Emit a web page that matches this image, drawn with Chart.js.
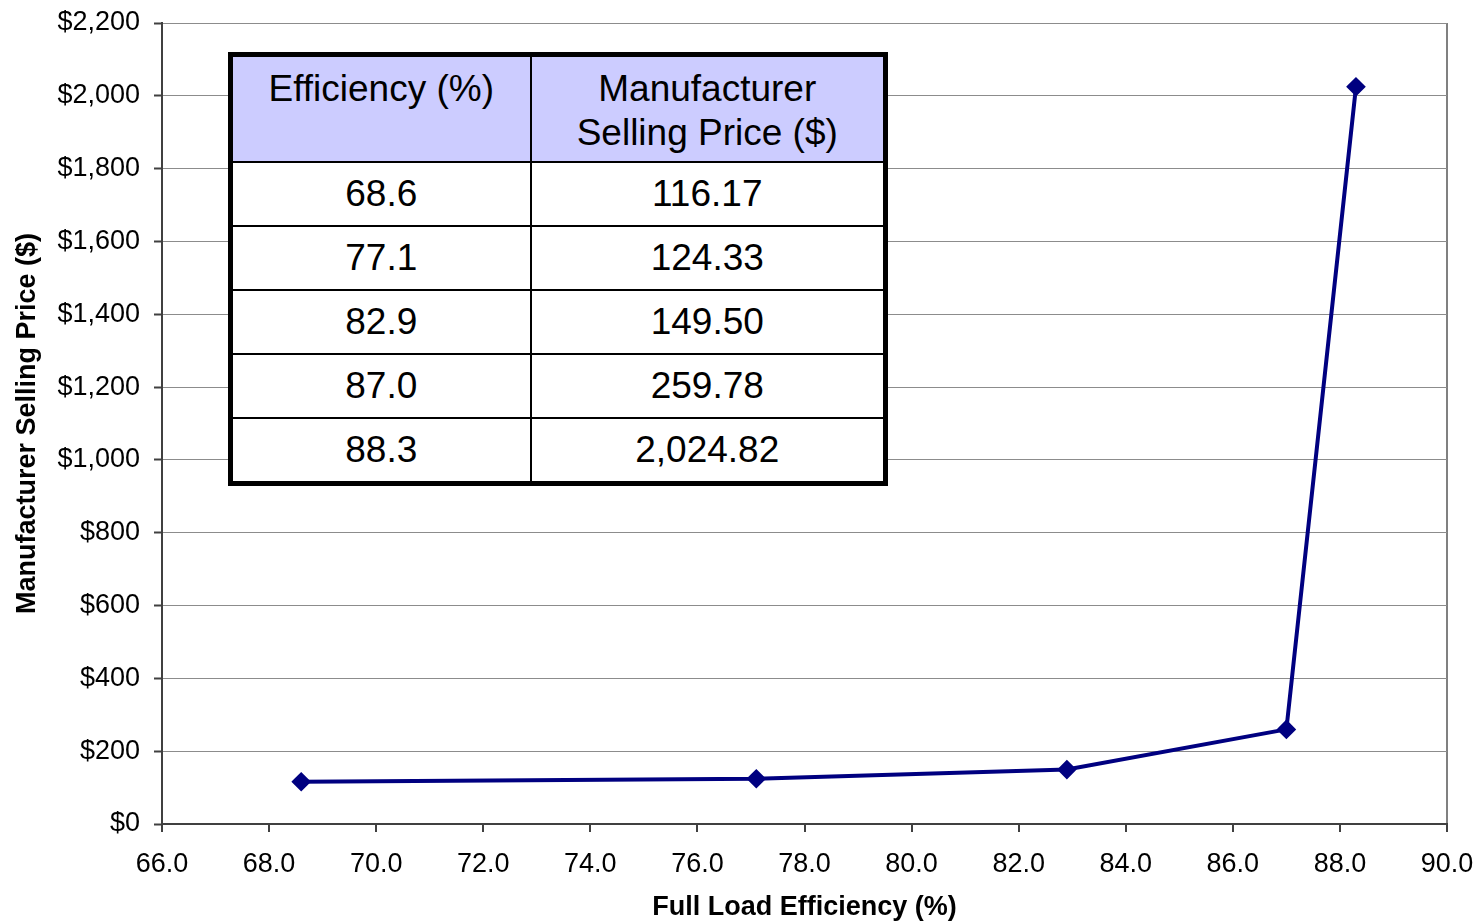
<!DOCTYPE html>
<html>
<head>
<meta charset="utf-8">
<script src="https://cdn.jsdelivr.net/npm/chart.js@4.4.0/dist/chart.umd.min.js"></script>
<style>
  html, body { margin: 0; padding: 0; background: #fff; }
  .wrap { position: relative; width: 1480px; height: 924px; }
  #chart { position: absolute; left: 0; top: 0; }
  .price-table {
    position: absolute; left: 228px; top: 52px; width: 660px; height: 432px;
    border-collapse: collapse; border: 5px solid #000; background: #fff;
    font-family: "Liberation Sans", Arial, sans-serif; font-size: 37px; color: #000;
    box-sizing: border-box;
  }
  .price-table td, .price-table th {
    border: 2px solid #000; text-align: center; padding: 0; font-weight: normal;
  }
  .price-table th { background: #ccccff; vertical-align: top; padding-top: 10px; line-height: 44px; height: 94px; }
  .price-table td { height: 62px; }
</style>
</head>
<body>
<div class="wrap">
  <canvas id="chart" width="1480" height="924"></canvas>
  <table class="price-table" id="priceTable">
    <colgroup><col style="width:300px"><col></colgroup>
    <thead><tr><th>Efficiency (%)</th><th>Manufacturer<br>Selling Price ($)</th></tr></thead>
    <tbody></tbody>
  </table>
</div>
<script>
// data
var efficiency = [68.6, 77.1, 82.9, 87.0, 88.3];
var sellingPrice = [116.17, 124.33, 149.50, 259.78, 2024.82];
var xTicks = [66, 68, 70, 72, 74, 76, 78, 80, 82, 84, 86, 88, 90];
var yTicks = [0, 200, 400, 600, 800, 1000, 1200, 1400, 1600, 1800, 2000, 2200];

document.addEventListener('DOMContentLoaded', function () {

  // table rows
  var tbody = document.querySelector('#priceTable tbody');
  efficiency.forEach(function (eff, i) {
    var tr = document.createElement('tr');
    var td1 = document.createElement('td');
    td1.textContent = eff.toFixed(1);
    var td2 = document.createElement('td');
    td2.textContent = sellingPrice[i].toLocaleString('en-US', { minimumFractionDigits: 2, maximumFractionDigits: 2 });
    tr.appendChild(td1);
    tr.appendChild(td2);
    tbody.appendChild(tr);
  });

  var points = efficiency.map(function (e, i) { return { x: e, y: sellingPrice[i] }; });

  var ctx = document.getElementById('chart').getContext('2d');
  var chart = new Chart(ctx, {
    type: 'scatter',
    data: {
      datasets: [{
        label: 'Manufacturer Selling Price',
        data: points,
        showLine: true,
        borderColor: '#000080',
        backgroundColor: '#000080',
        borderWidth: 4,
        pointStyle: 'rectRot',
        pointRadius: 7,
        pointHoverRadius: 7
      }]
    },
    options: {
      responsive: false,
      animation: false,
      layout: { padding: { top: 23, right: 33, left: 0, bottom: 0 } },
      plugins: { legend: { display: false }, tooltip: { enabled: false } },
      scales: {
        x: {
          type: 'linear',
          min: xTicks[0],
          max: xTicks[xTicks.length - 1],
          afterBuildTicks: function (scale) { scale.ticks = xTicks.map(function (v) { return { value: v }; }); },
          afterFit: function (scale) { scale.height = 100; scale.paddingLeft = 0; scale.paddingRight = 0; },
          ticks: {
            color: '#000',
            font: { family: 'Liberation Sans', size: 27 },
            padding: 16,
            maxRotation: 0,
            callback: function (v) { return Number(v).toFixed(1); }
          },
          grid: {
            drawOnChartArea: true,
            color: function (c) { return c.tick && c.tick.value === 90 ? '#808080' : 'rgba(0,0,0,0)'; },
            lineWidth: 2,
            tickLength: 8,
            tickColor: '#404040',
            tickWidth: 2
          },
          border: { color: '#404040', width: 2 },
          title: {
            display: true,
            text: 'Full Load Efficiency (%)',
            color: '#000',
            font: { family: 'Liberation Sans', size: 27, weight: 'bold' },
            padding: { top: 0, bottom: 0 }
          }
        },
        y: {
          min: yTicks[0],
          max: yTicks[yTicks.length - 1],
          afterBuildTicks: function (scale) { scale.ticks = yTicks.map(function (v) { return { value: v }; }); },
          afterFit: function (scale) { scale.width = 162; scale.paddingTop = 0; scale.paddingBottom = 0; },
          ticks: {
            color: '#000',
            font: { family: 'Liberation Sans', size: 27 },
            padding: 14,
            callback: function (v) { return '$' + Number(v).toLocaleString('en-US'); }
          },
          grid: {
            color: '#8c8c8c',
            lineWidth: 1,
            tickLength: 8,
            tickColor: '#404040',
            tickWidth: 2
          },
          border: { color: '#404040', width: 2 },
          title: {
            display: true,
            text: 'Manufacturer Selling Price ($)',
            color: '#000',
            font: { family: 'Liberation Sans', size: 27, weight: 'bold' },
            padding: { bottom: 0, top: 11 }
          }
        }
      }
    }
  });

});
</script>
</body>
</html>
